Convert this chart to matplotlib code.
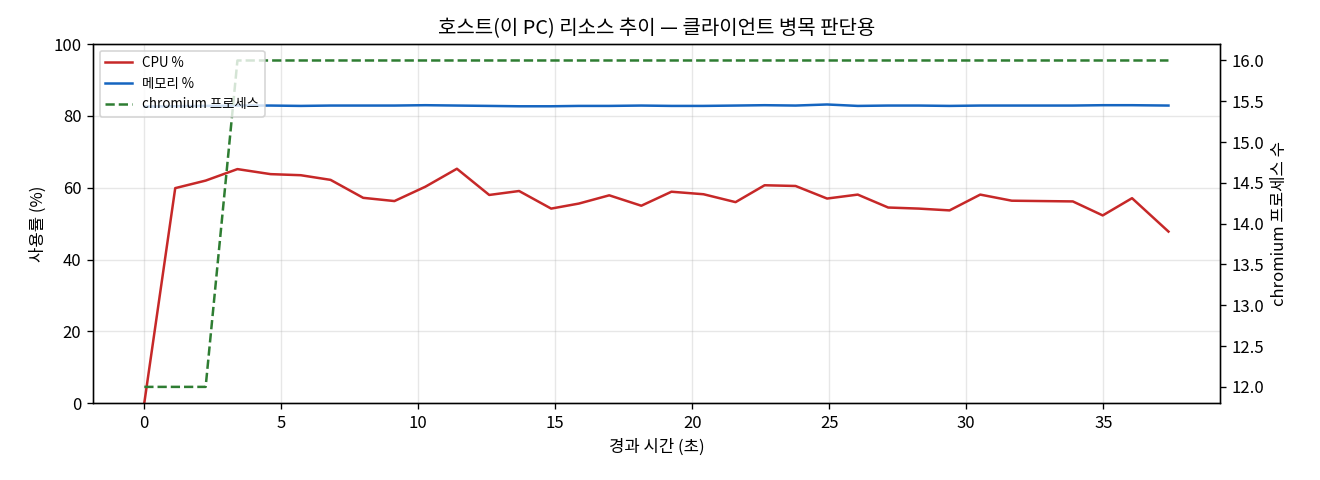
import matplotlib
matplotlib.use('Agg')
import matplotlib.pyplot as plt

plt.rcParams['font.family'] = ['Noto Sans CJK KR', 'DejaVu Sans']

# sample times (s)
elapsed = [0.00, 1.13, 2.24, 3.40, 4.61, 5.71, 6.80, 7.99, 9.13, 10.26,
           11.41, 12.59, 13.68, 14.85, 15.86, 16.97, 18.14, 19.24, 20.41, 21.58,
           22.64, 23.77, 24.92, 26.04, 27.15, 28.27, 29.39, 30.51, 31.66, 32.75,
           33.89, 34.98, 36.05, 37.38]

cpu_pct = [0.0, 59.9, 62.0, 65.2, 63.8, 63.5, 62.2, 57.2, 56.3, 60.3,
           65.3, 58.0, 59.1, 54.2, 55.6, 57.9, 55.0, 58.9, 58.2, 56.0,
           60.7, 60.5, 57.0, 58.1, 54.5, 54.2, 53.7, 58.1, 56.4, 56.3,
           56.2, 52.3, 57.1, 47.8]

mem_pct = [82.6, 82.7, 82.8, 82.9, 82.9, 82.8, 82.9, 82.9, 82.9, 83.0,
           82.9, 82.8, 82.7, 82.7, 82.8, 82.8, 82.9, 82.8, 82.8, 82.9,
           83.0, 82.9, 83.2, 82.8, 82.9, 82.9, 82.8, 82.9, 82.9, 82.9,
           82.9, 83.0, 83.0, 82.9]

chromium_procs = [12, 12, 12, 16, 16, 16, 16, 16, 16, 16,
                  16, 16, 16, 16, 16, 16, 16, 16, 16, 16,
                  16, 16, 16, 16, 16, 16, 16, 16, 16, 16,
                  16, 16, 16, 16]

fig, ax = plt.subplots(figsize=(11, 4), dpi=120)
fig.subplots_adjust(left=0.0705, right=0.924, bottom=0.16, top=0.908)

l1, = ax.plot(elapsed, cpu_pct, color='#c62828', lw=1.5, label='CPU %')
l2, = ax.plot(elapsed, mem_pct, color='#1565c0', lw=1.5, label='메모리 %')
ax.set_ylim(0, 100)
ax.set_xlabel('경과 시간 (초)')
ax.set_ylabel('사용률 (%)')
ax.grid(True, alpha=0.3)
ax.set_title('호스트(이 PC) 리소스 추이 — 클라이언트 병목 판단용', fontsize=12)

ax2 = ax.twinx()
l3, = ax2.plot(elapsed, chromium_procs, color='#2e7d32', lw=1.5, ls='--',
               label='chromium 프로세스')
ax2.set_ylabel('chromium 프로세스 수')

ax2.legend(handles=[l1, l2, l3], loc='upper left', fontsize=8)

fig.savefig('out.png', dpi=120)
